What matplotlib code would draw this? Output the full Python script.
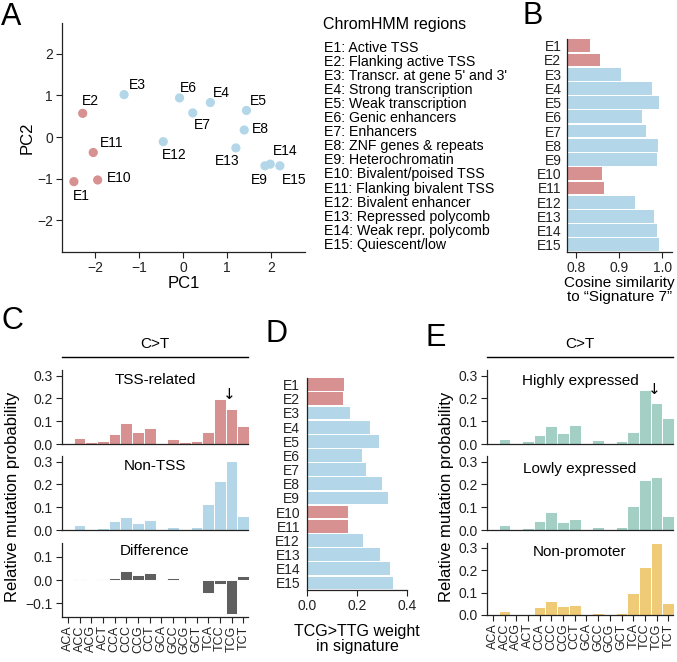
import numpy as np
import matplotlib
matplotlib.use('Agg')
from matplotlib import pyplot as plt

plt.rcParams['font.family'] = ['Liberation Sans', 'DejaVu Sans']
plt.rcParams['axes.edgecolor'] = '#222222'
plt.rcParams['axes.linewidth'] = 0.9
plt.rcParams['xtick.color'] = '#222222'
plt.rcParams['ytick.color'] = '#222222'

# ChromHMM states
regions = ['E1', 'E2', 'E3', 'E4', 'E5', 'E6', 'E7', 'E8', 'E9', 'E10',
           'E11', 'E12', 'E13', 'E14', 'E15']
region_names = ['Active TSS', 'Flanking active TSS', "Transcr. at gene 5' and 3'",
                'Strong transcription', 'Weak transcription', 'Genic enhancers',
                'Enhancers', 'ZNF genes & repeats', 'Heterochromatin',
                'Bivalent/poised TSS', 'Flanking bivalent TSS', 'Bivalent enhancer',
                'Repressed polycomb', 'Weak repr. polycomb', 'Quiescent/low']
tss_regions = ['E1', 'E2', 'E10', 'E11']

# panel A
pc1 = [-2.48, -2.28, -1.34, 0.62, 1.44, -0.08, 0.22, 1.39, 1.86, -1.94,
       -2.04, -0.45, 1.20, 1.98, 2.20]
pc2 = [-1.07, 0.57, 1.02, 0.83, 0.64, 0.94, 0.58, 0.17, -0.69, -1.03,
       -0.37, -0.11, -0.26, -0.65, -0.69]
# label offsets in pixels
label_dx = [7, 8, 13, 11, 12, 9, 10, 16, -6, 22, 18, 11, -9, 15, 14]
label_dy = [-14, 12, 10, 10, 9, 10, -12, 1, -14, 2, 9, -13, -13, 13, -14]

# panel B and D
cosine_sig7 = [0.832, 0.856, 0.904, 0.975, 0.993, 0.953, 0.962, 0.990, 0.987,
               0.861, 0.864, 0.937, 0.981, 0.988, 0.991]
tcg_weight = [0.148, 0.145, 0.171, 0.253, 0.289, 0.220, 0.235, 0.299, 0.325,
              0.165, 0.163, 0.225, 0.292, 0.331, 0.344]

# panels C and E
contexts = ['ACA', 'ACC', 'ACG', 'ACT', 'CCA', 'CCC', 'CCG', 'CCT',
            'GCA', 'GCC', 'GCG', 'GCT', 'TCA', 'TCC', 'TCG', 'TCT']
tss_related = [0.001, 0.026, 0.007, 0.013, 0.046, 0.094, 0.052, 0.071,
               0.001, 0.022, 0.007, 0.013, 0.052, 0.198, 0.154, 0.081]
non_tss = [0.002, 0.020, 0.006, 0.009, 0.040, 0.057, 0.029, 0.042,
           0.002, 0.013, 0.003, 0.013, 0.112, 0.217, 0.303, 0.062]
difference = [-0.002, 0.004, 0.002, 0.004, 0.007, 0.037, 0.022, 0.029,
              -0.002, 0.008, 0.002, 0.002, -0.058, -0.017, -0.145, 0.018]
highly_expr = [0.001, 0.020, 0.002, 0.012, 0.039, 0.080, 0.047, 0.083,
               0.001, 0.018, 0.002, 0.012, 0.051, 0.236, 0.178, 0.112]
lowly_expr = [0.001, 0.020, 0.004, 0.009, 0.041, 0.080, 0.037, 0.050,
              0.001, 0.013, 0.002, 0.014, 0.104, 0.220, 0.231, 0.060]
non_promoter = [0.001, 0.019, 0.003, 0.003, 0.037, 0.061, 0.040, 0.044,
                0.001, 0.010, 0.002, 0.010, 0.098, 0.212, 0.322, 0.054]

red = '#d69190'
blue = '#b3d7e9'
teal = '#a3cfc4'
yellow = '#efcb78'
grey = '#5f5f5f'

W, H = 677, 662
fig = plt.figure(figsize=(W / 100, H / 100), dpi=100)


def px_axes(x0, y0, x1, y1):
    # pixel box (top-left origin) -> figure axes
    return fig.add_axes([x0 / W, 1 - y1 / H, (x1 - x0) / W, (y1 - y0) / H])


def clean(ax):
    ax.spines['top'].set_visible(False)
    ax.spines['right'].set_visible(False)
    ax.tick_params(labelsize=10, length=4, width=0.8, pad=2.5)


region_colors = [red if r in tss_regions else blue for r in regions]

# ---- A: PCA ----
ax = px_axes(62, 23, 305, 252)
clean(ax)
ax.scatter(pc1, pc2, s=44, c=region_colors, edgecolors='none', zorder=3)
for i, r in enumerate(regions):
    ax.annotate(r, (pc1[i], pc2[i]), xytext=(label_dx[i], label_dy[i]),
                textcoords='offset pixels', ha='center', va='center', fontsize=10)
ax.set_xlim(-2.75, 2.77)
ax.set_ylim(-2.76, 2.74)
ax.set_xticks([-2, -1, 0, 1, 2])
ax.set_yticks([-2, -1, 0, 1, 2])
ax.set_xlabel('PC1', fontsize=12, labelpad=1)
ax.set_ylabel('PC2', fontsize=12, labelpad=2)

fig.text(323 / W, 1 - 25 / H, 'ChromHMM regions', fontsize=11.5, va='center')
for i, r in enumerate(regions):
    fig.text(324 / W, 1 - (48 + i * 14.05) / H, f'{r}: {region_names[i]}',
             fontsize=10.2, va='center')

# ---- B: cosine similarity ----
ax = px_axes(567, 39, 672, 252)
clean(ax)
ypos = np.arange(len(regions))
ax.barh(ypos, [c - 0.779 for c in cosine_sig7], left=0.779, height=0.9,
        color=region_colors)
ax.set_xlim(0.779, 1.022)
ax.set_ylim(14.5, -0.47)
ax.set_yticks(ypos)
ax.set_yticklabels(regions, fontsize=10)
ax.tick_params(axis='y', length=0, pad=4)
ax.set_xticks([0.8, 0.9, 1.0])
ax.set_xticklabels(['0.8', '0.9', '1.0'])
ax.set_xlabel('Cosine similarity\nto \u201cSignature 7\u201d', fontsize=11,
              linespacing=1.0)
ax.xaxis.set_label_coords(0.5, -0.115, transform=ax.transAxes)
ax.xaxis.label.set_va('top')

# ---- D: TCG>TTG weight ----
ax = px_axes(307, 378, 407, 590)
clean(ax)
ax.barh(ypos, tcg_weight, height=0.9, color=region_colors)
ax.set_xlim(0, 0.4)
ax.set_ylim(14.5, -0.47)
ax.set_yticks(ypos)
ax.set_yticklabels(regions, fontsize=10)
ax.tick_params(axis='y', length=0, pad=5)
ax.set_xticks([0, 0.2, 0.4])
ax.set_xticklabels(['0.0', '0.2', '0.4'])
ax.set_xlabel('TCG>TTG weight\nin signature', fontsize=11.5, labelpad=8,
              linespacing=1.0)


# ---- C and E: spectra ----
def spectrum(box, values, color, title, title_y, ylim, yticks, bottom=False, arrow=False):
    ax = px_axes(*box)
    clean(ax)
    x = np.arange(len(contexts))
    ax.bar(x, values, width=1.0, color=color, edgecolor='white', linewidth=0.7,
           clip_on=False)
    ax.set_xlim(-0.5, 15.4)
    ax.set_ylim(*ylim)
    ax.set_yticks(yticks)
    ax.set_yticklabels([f'{t:.1f}'.replace('-', '\u2212') for t in yticks])
    ax.text(0.5, title_y, title, transform=ax.transAxes, ha='center', va='center',
            fontsize=11)
    if bottom:
        ax.set_xticks(x)
        ax.set_xticklabels(contexts, rotation=90, fontsize=9)
        ax.tick_params(axis='x', pad=2)
    else:
        ax.tick_params(axis='x', bottom=False, labelbottom=False)
    if arrow:
        i = contexts.index('TCG')
        ax.text(i - 0.2, values[i] + 0.03, '\u2193', ha='center', va='bottom',
                fontsize=11, family=['DejaVu Sans'])
    return ax


ax = spectrum((62, 370, 248, 444), tss_related, red, 'TSS-related', 0.86,
              (0, 0.325), [0.0, 0.1, 0.2, 0.3], arrow=True)
ax.plot([0, 1], [1.175, 1.175], transform=ax.transAxes, color='black', lw=1,
        clip_on=False)
ax.text(0.5, 1.35, 'C>T', transform=ax.transAxes, ha='center', va='center', fontsize=11)
spectrum((62, 456, 248, 530), non_tss, blue, 'Non-TSS', 0.86,
         (0, 0.325), [0.0, 0.1, 0.2, 0.3])
spectrum((62, 543, 248, 617), difference, grey, 'Difference', 0.89,
         (-0.16, 0.16), [-0.1, 0.0, 0.1], bottom=True)

ax = spectrum((487, 370, 673, 444), highly_expr, teal, 'Highly expressed', 0.85,
              (0, 0.325), [0.0, 0.1, 0.2, 0.3], arrow=True)
ax.plot([0, 1], [1.175, 1.175], transform=ax.transAxes, color='black', lw=1,
        clip_on=False)
ax.text(0.5, 1.35, 'C>T', transform=ax.transAxes, ha='center', va='center', fontsize=11)
spectrum((487, 456, 673, 530), lowly_expr, teal, 'Lowly expressed', 0.82,
         (0, 0.325), [0.0, 0.1, 0.2, 0.3])
spectrum((487, 543, 673, 615), non_promoter, yellow, 'Non-promoter', 0.87,
         (0, 0.32), [0.0, 0.1, 0.2, 0.3], bottom=True)

fig.text(13 / W, 1 - 497 / H, 'Relative mutation probability', rotation=90,
         ha='center', va='center', fontsize=12)
fig.text(446 / W, 1 - 497 / H, 'Relative mutation probability', rotation=90,
         ha='center', va='center', fontsize=12)

# panel letters
for letter, (px, py) in zip('ABCDE', [(11, 17), (533, 16), (12, 321),
                                       (277, 334), (436, 338)]):
    fig.text(px / W, 1 - py / H, letter, fontsize=22, ha='center', va='center')

fig.savefig('out.png', dpi=100)
